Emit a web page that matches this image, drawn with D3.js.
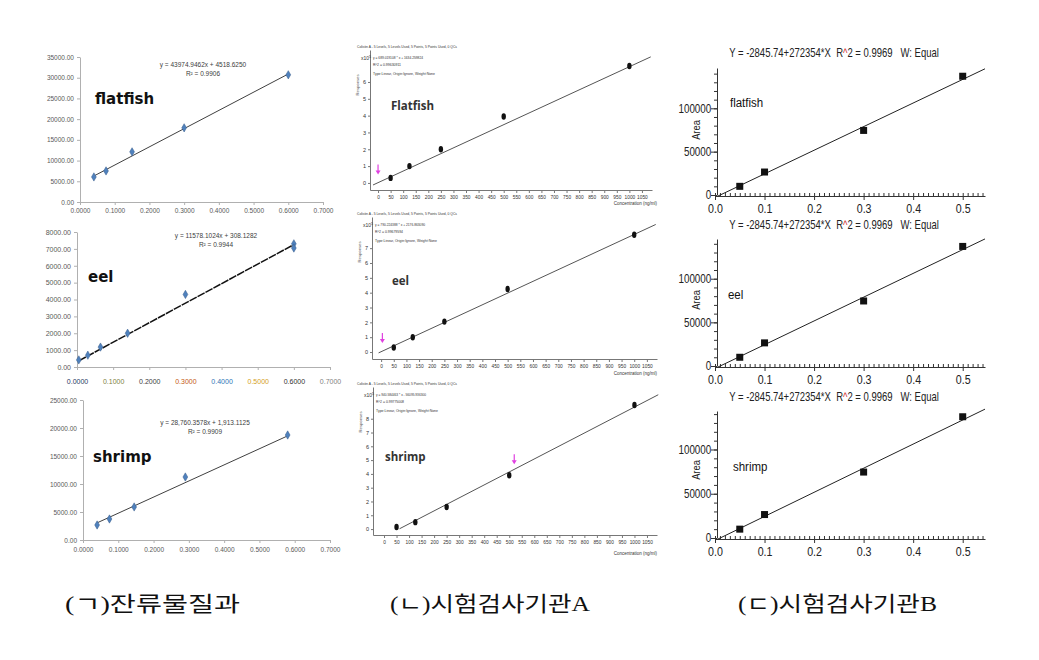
<!DOCTYPE html>
<html>
<head>
<meta charset="utf-8">
<script src="https://cdn.jsdelivr.net/npm/d3@7"></script>
<style>
    body { margin: 0; background: #fff; }
    svg { display: block; }
</style>
</head>
<body>
<svg id="chart" width="1039" height="660"></svg>
<script>
/**
 * Data.
 */
// (ㄱ) spreadsheet fits
const excelXTicks = [0, 0.1, 0.2, 0.3, 0.4, 0.5, 0.6, 0.7];
const excelFlatfishX = [0.04, 0.075, 0.15, 0.3, 0.6];
const excelFlatfishY = [6050, 7500, 12100, 17900, 30700];
const excelEelX = [0.005, 0.03, 0.065, 0.14, 0.3, 0.6, 0.6];
const excelEelY = [420, 700, 1180, 2000, 4300, 7300, 7050];
const excelShrimpX = [0.04, 0.075, 0.145, 0.29, 0.58];
const excelShrimpY = [2680, 3750, 5900, 11250, 18750];
const excelSlopes = [43974.9462, 11578.1024, 28760.3578];
const excelIntercepts = [4518.625, 308.1282, 1913.1125];
const excelEquations = ['y = 43974.9462x + 4518.6250', 'y = 11578.1024x + 308.1282', 'y = 28,760.3578x + 1,913.1125'];
const excelR2 = ['R² = 0.9906', 'R² = 0.9944', 'R² = 0.9909'];
const excelEelTickColors = ['#1f3864', '#7f7f3f', '#404040', '#c55a11', '#2e75b6', '#d4a017', '#303030', '#7f7f7f'];

// (ㄴ) lab A, responses in x10^5
const labAConc = [50, 125, 250, 500, 1000];
const labAXTicks = d3.range(0, 1051, 50);
const labAFlatfish = [0.3, 1.0, 2.0, 3.95, 6.95];
const labAEel = [0.3, 1.0, 2.05, 4.25, 7.9];
const labAShrimp = [0.15, 0.5, 1.6, 3.9, 9.0];
const labASlopes = [0.00689019, 0.00790224, 0.0094058];
const labAIntercepts = [0.0163, 0.0218, -0.561];
const labAEquations = ['y = 689.019108 * x + 1634.259824', 'y = 790.224388 * x + 2176.863090', 'y = 940.584463 * x - 56095.936300'];
const labAR2 = ['R^2 = 0.99630911', 'R^2 = 0.99679594', 'R^2 = 0.99775008'];
const labAArrowConc = [0, 5, 520];
const labAArrowLevel = [0.5, 0.6, 4.7];

// (ㄷ) lab B
const labBConc = [0.05, 0.1, 0.3, 0.5];
const labBArea = [10000, 26500, 74500, 137000];
const labBSlope = 272354;
const labBIntercept = -2845.74;
const labBXTicks = [0, 0.1, 0.2, 0.3, 0.4, 0.5];
const labBYTicks = [0, 50000, 100000];

const sampleNames = ['flatfish', 'eel', 'shrimp'];
const captions = ['(ㄱ)잔류물질과', '(ㄴ)시험검사기관A', '(ㄷ)시험검사기관B'];

const svg = d3.select('#chart');

/**
 * Shared axis styling.
 */
function styleAxis(a, font, size, color, lineColor) {
    a.attr('font-family', font).attr('font-size', size);
    a.select('.domain').attr('stroke', lineColor);
    a.selectAll('.tick line').attr('stroke', lineColor);
    a.selectAll('.tick text').attr('fill', color);
}

/**
 * Column 1: spreadsheet-style scatter with trendline.
 */
function drawExcel(cfg) {
    const g = svg.append('g');
    const x = d3.scaleLinear().domain([0, 0.7]).range(cfg.xRange);
    const y = d3.scaleLinear().domain([0, cfg.yMax]).range(cfg.yRange);
    const font = 'Liberation Sans, Arial, sans-serif';

    const yAxis = g.append('g')
        .attr('transform', `translate(${cfg.xRange[0]},0)`)
        .call(d3.axisLeft(y).tickValues(d3.range(0, cfg.yMax + 1, cfg.yStep))
            .tickFormat(d3.format('.2f')).tickSize(3).tickSizeOuter(0).tickPadding(3));
    styleAxis(yAxis, font, cfg.tickFont, '#595959', '#b0b0b0');

    const xAxis = g.append('g')
        .attr('transform', `translate(0,${cfg.yRange[0]})`)
        .call(d3.axisBottom(x).tickValues(excelXTicks)
            .tickFormat(d3.format('.4f')).tickSize(3).tickSizeOuter(0).tickPadding(cfg.xPad));
    styleAxis(xAxis, font, cfg.tickFont, '#595959', '#b0b0b0');
    if (cfg.tickColors) xAxis.selectAll('.tick text').attr('fill', (d, i) => cfg.tickColors[i]);

    // Trendline
    const x0 = d3.min(cfg.xs), x1 = d3.max(cfg.xs);
    const fit = v => cfg.slope * v + cfg.intercept;
    g.append('line')
        .attr('x1', x(x0)).attr('y1', y(fit(x0)))
        .attr('x2', x(x1)).attr('y2', y(fit(x1)))
        .attr('stroke', cfg.lineColor).attr('stroke-width', cfg.lineWidth)
        .attr('stroke-dasharray', cfg.dash || null);

    g.selectAll('.pt').data(d3.zip(cfg.xs, cfg.ys)).join('path')
        .attr('class', 'pt')
        .attr('d', d3.symbol(d3.symbolDiamond, 20))
        .attr('transform', d => `translate(${x(d[0])},${y(d[1])})`)
        .attr('fill', '#4f81bd').attr('stroke', '#385d8a').attr('stroke-width', 0.5);

    g.append('text').attr('x', cfg.eqPos[0]).attr('y', cfg.eqPos[1])
        .attr('text-anchor', 'middle').attr('font-family', font).attr('font-size', 6.5)
        .attr('fill', '#404040').text(cfg.eq);
    g.append('text').attr('x', cfg.eqPos[0]).attr('y', cfg.eqPos[1] + 9)
        .attr('text-anchor', 'middle').attr('font-family', font).attr('font-size', 6.5)
        .attr('fill', '#404040').text(cfg.r2);

    g.append('text').attr('x', cfg.labelPos[0]).attr('y', cfg.labelPos[1])
        .attr('font-family', 'DejaVu Sans, Verdana, sans-serif').attr('font-weight', 'bold')
        .attr('font-size', 15).attr('fill', '#111').text(cfg.label);
}

/**
 * Column 2: instrument software calibration curve.
 */
function drawLabA(cfg) {
    const g = svg.append('g');
    const x = d3.scaleLinear().domain(cfg.xDomain).range(cfg.xRange);
    const y = d3.scaleLinear().domain(cfg.yDomain).range(cfg.yRange);
    const font = 'Liberation Sans, Arial, sans-serif';
    const left = cfg.xRange[0], bottom = cfg.yRange[0], top = cfg.yRange[1];

    const yAxis = g.append('g')
        .attr('transform', `translate(${left},0)`)
        .call(d3.axisLeft(y).tickValues(d3.range(0, cfg.yLabels + 1))
            .tickFormat(d3.format('d')).tickSize(2).tickSizeOuter(0).tickPadding(2));
    styleAxis(yAxis, font, 5.5, '#333', '#777');

    const xAxis = g.append('g')
        .attr('transform', `translate(0,${bottom})`)
        .call(d3.axisBottom(x).tickValues(labAXTicks)
            .tickFormat(d3.format('d')).tickSize(3).tickSizeOuter(0).tickPadding(3));
    styleAxis(xAxis, font, 4.8, '#333', '#777');

    // Header and fit text
    const small = (tx, ty, str, len) => g.append('text').attr('x', tx).attr('y', ty)
        .attr('font-family', font).attr('font-size', 4.2).attr('fill', '#333')
        .attr('textLength', len).attr('lengthAdjust', 'spacingAndGlyphs').text(str);
    small(357, top - 2, 'Colistin A - 5 Levels, 5 Levels Used, 5 Points, 5 Points Used, 0 QCs', 100);
    small(left + 3, top + 9, cfg.eq, 50);
    small(left + 3, top + 16, cfg.r2, 28);
    small(left + 3, top + 25, 'Type:Linear, Origin:Ignore, Weight:None', 62);

    const exp = g.append('text').attr('x', left - 9).attr('y', top + 10)
        .attr('font-family', font).attr('font-size', 5).attr('fill', '#333');
    exp.append('tspan').text('x10');
    exp.append('tspan').attr('dy', -2).attr('font-size', 3.6).text('5');

    g.append('text')
        .attr('transform', `translate(${left - 11},${top + 35}) rotate(-90)`)
        .attr('text-anchor', 'middle').attr('font-family', font).attr('font-size', 4.2)
        .attr('fill', '#555').text('Responses');

    g.append('text').attr('x', 657).attr('y', bottom + cfg.concDy)
        .attr('text-anchor', 'end').attr('font-family', font).attr('font-size', 4.5)
        .attr('fill', '#333').text('Concentration (ng/ml)');

    // Fit line across the axis range
    const fit = v => cfg.slope * v + cfg.intercept;
    g.append('line')
        .attr('x1', x(cfg.lineFrom)).attr('y1', y(fit(cfg.lineFrom)))
        .attr('x2', x(cfg.lineTo)).attr('y2', y(fit(cfg.lineTo)))
        .attr('stroke', '#555').attr('stroke-width', 1);

    g.selectAll('.pt').data(d3.zip(labAConc, cfg.values)).join('ellipse')
        .attr('class', 'pt')
        .attr('cx', d => x(d[0])).attr('cy', d => y(d[1]))
        .attr('rx', 2.2).attr('ry', 3.2).attr('fill', '#111');

    // Magenta marker arrow
    const ax = x(cfg.arrowConc), ay = y(cfg.arrowLevel);
    g.append('line').attr('x1', ax).attr('x2', ax).attr('y1', ay - 10).attr('y2', ay - 3)
        .attr('stroke', '#e040e0').attr('stroke-width', 1.2);
    g.append('path').attr('d', `M${ax - 2.5},${ay - 4}L${ax + 2.5},${ay - 4}L${ax},${ay}Z`)
        .attr('fill', '#e040e0');

    g.append('text').attr('x', cfg.labelPos[0]).attr('y', cfg.labelPos[1])
        .attr('font-family', 'Open Sans, Noto Sans, sans-serif').attr('font-weight', 'bold')
        .attr('font-size', 11.5).attr('fill', '#333').text(cfg.label);
}

/**
 * Column 3: plotting program calibration curve.
 */
function drawLabB(cfg) {
    const g = svg.append('g');
    const font = 'Liberation Sans, Arial, sans-serif';
    const x = d3.scaleLinear().domain([0, 0.545]).range([715, 985]);
    const y = d3.scaleLinear().domain([0, cfg.yMax]).range(cfg.yRange);
    const bottom = cfg.yRange[0];
    const narrow = a => a.selectAll('.tick text').attr('transform', 'scale(0.82,1)');

    // Minor ticks
    g.append('g').attr('transform', `translate(717,0)`)
        .call(d3.axisLeft(y).tickValues(d3.range(0, cfg.yMax, 10000)).tickFormat('').tickSize(3).tickSizeOuter(0))
        .call(a => styleAxis(a, font, 10, '#222', '#333'));
    g.append('g').attr('transform', `translate(0,${bottom + 1})`)
        .call(d3.axisBottom(x).tickValues(d3.range(0, 55).map(i => i / 100)).tickFormat('').tickSize(-3).tickSizeOuter(0))
        .call(a => styleAxis(a, font, 10, '#222', '#333'));

    // Major ticks
    const yAxis = g.append('g').attr('transform', `translate(717,0)`)
        .call(d3.axisLeft(y).tickValues(labBYTicks).tickFormat(d3.format('d')).tickSize(6).tickSizeOuter(0).tickPadding(1));
    styleAxis(yAxis, font, 12, '#222', '#333');
    yAxis.select('.domain').remove();
    narrow(yAxis);

    const xAxis = g.append('g').attr('transform', `translate(0,${bottom + 1})`)
        .call(d3.axisBottom(x).tickValues(labBXTicks).tickFormat(d3.format('.1f')).tickSize(4).tickSizeOuter(0).tickPadding(4));
    styleAxis(xAxis, font, 13, '#222', '#333');
    xAxis.select('.domain').remove();
    narrow(xAxis);

    const fit = v => labBSlope * v + labBIntercept;
    g.append('line')
        .attr('x1', x(0.006)).attr('y1', y(fit(0.006)))
        .attr('x2', x(0.545)).attr('y2', y(fit(0.545)))
        .attr('stroke', '#222').attr('stroke-width', 1);

    g.selectAll('.pt').data(d3.zip(labBConc, labBArea)).join('rect')
        .attr('class', 'pt')
        .attr('x', d => x(d[0]) - 3.5).attr('y', d => y(d[1]) - 3.5)
        .attr('width', 7).attr('height', 7).attr('fill', '#111');

    // Fit title, squeezed like the narrow original
    const title = g.append('text')
        .attr('transform', `translate(834,${cfg.titleY}) scale(0.76,1)`)
        .attr('text-anchor', 'middle').attr('font-family', font).attr('font-size', 12.5).attr('fill', '#222')
        .style('white-space', 'pre');
    title.append('tspan').text('Y = -2845.74+272354*X  R');
    title.append('tspan').attr('fill', '#d03030').text('^');
    title.append('tspan').text('2 = 0.9969   W: Equal');

    g.append('text')
        .attr('transform', `translate(700,${cfg.areaY}) rotate(-90) scale(0.85,1)`)
        .attr('text-anchor', 'middle').attr('font-family', font).attr('font-size', 11)
        .attr('fill', '#222').text('Area');

    g.append('text').attr('x', cfg.labelPos[0]).attr('y', cfg.labelPos[1])
        .attr('transform', `translate(${cfg.labelPos[0] * 0.15},0) scale(0.85,1)`)
        .attr('font-family', font).attr('font-size', 13.5).attr('fill', '#111').text(cfg.label);
}

drawExcel({ xRange: [80, 323], yRange: [202, 57], yMax: 35000, yStep: 5000, tickFont: 6.5, xPad: 3,
    xs: excelFlatfishX, ys: excelFlatfishY, slope: excelSlopes[0], intercept: excelIntercepts[0],
    eq: excelEquations[0], r2: excelR2[0], eqPos: [203, 67], label: sampleNames[0], labelPos: [95, 104],
    lineColor: '#404040', lineWidth: 1 });
drawExcel({ xRange: [77, 330], yRange: [367, 232], yMax: 8000, yStep: 1000, tickFont: 7, xPad: 9,
    xs: excelEelX, ys: excelEelY, slope: excelSlopes[1], intercept: excelIntercepts[1],
    eq: excelEquations[1], r2: excelR2[1], eqPos: [216, 238], label: sampleNames[1], labelPos: [88, 282],
    lineColor: '#111', lineWidth: 1.5, dash: '8 1', tickColors: excelEelTickColors });
drawExcel({ xRange: [83, 330], yRange: [540, 400], yMax: 25000, yStep: 5000, tickFont: 6.5, xPad: 4,
    xs: excelShrimpX, ys: excelShrimpY, slope: excelSlopes[2], intercept: excelIntercepts[2],
    eq: excelEquations[2], r2: excelR2[2], eqPos: [205, 425], label: sampleNames[2], labelPos: [93, 462],
    lineColor: '#404040', lineWidth: 1 });

drawLabA({ xDomain: [-32, 1090], xRange: [370, 652], yDomain: [-0.42, 7.9], yRange: [190, 50], yLabels: 6,
    values: labAFlatfish, slope: labASlopes[0], intercept: labAIntercepts[0], lineFrom: -20, lineTo: 1085,
    eq: labAEquations[0], r2: labAR2[0], arrowConc: labAArrowConc[0], arrowLevel: labAArrowLevel[0],
    concDy: 15, label: 'Flatfish', labelPos: [391, 110] });
drawLabA({ xDomain: [-36, 1090], xRange: [372, 657], yDomain: [-0.47, 9.1], yRange: [359, 217], yLabels: 7,
    values: labAEel, slope: labASlopes[1], intercept: labAIntercepts[1], lineFrom: -10, lineTo: 1085,
    eq: labAEquations[1], r2: labAR2[1], arrowConc: labAArrowConc[1], arrowLevel: labAArrowLevel[1],
    concDy: 16, label: 'eel', labelPos: [392, 285] });
drawLabA({ xDomain: [-44, 1090], xRange: [373, 657], yDomain: [-0.43, 10.3], yRange: [535, 387], yLabels: 8,
    values: labAShrimp, slope: labASlopes[2], intercept: labAIntercepts[2], lineFrom: 62, lineTo: 1095,
    eq: labAEquations[2], r2: labAR2[2], arrowConc: labAArrowConc[2], arrowLevel: labAArrowLevel[2],
    concDy: 20, label: 'shrimp', labelPos: [385, 461] });

drawLabB({ yRange: [195, 68], yMax: 146500, titleY: 57, areaY: 130, label: sampleNames[0], labelPos: [730, 107] });
drawLabB({ yRange: [366, 239], yMax: 145500, titleY: 229, areaY: 300, label: sampleNames[1], labelPos: [728, 299] });
drawLabB({ yRange: [538, 411], yMax: 143500, titleY: 401, areaY: 470, label: sampleNames[2], labelPos: [733, 471] });

// Captions under each column
const captionX = [65, 390, 738], captionW = [175, 200, 199];
svg.selectAll('.caption').data(captions).join('text')
    .attr('class', 'caption')
    .attr('x', (d, i) => captionX[i]).attr('y', 611)
    .attr('textLength', (d, i) => captionW[i]).attr('lengthAdjust', 'spacingAndGlyphs')
    .attr('font-family', 'Liberation Serif, Noto Sans CJK KR, serif').attr('font-size', 21)
    .attr('fill', '#111').text(d => d);
</script>
</body>
</html>
